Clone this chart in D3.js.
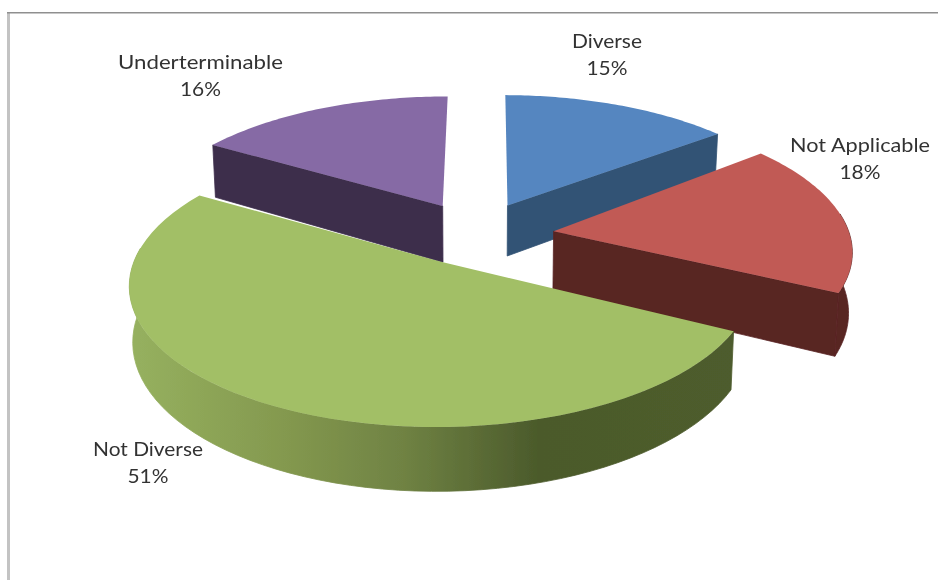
<!DOCTYPE html>
<html><head><meta charset="utf-8">
<script src="https://cdn.jsdelivr.net/npm/d3@7"></script>
<style>html,body{margin:0;padding:0;background:#fff}svg{display:block}</style>
</head><body><svg id="c" width="938" height="580"></svg>
<script>
const categories = ["Diverse","Not Applicable","Not Diverse","Underterminable"];
const values = [15,18,51,16];
const topColors = ["#5586c0","#c15a55","#a2bf66","#866aa5"];
const wallColors = ["#325375","#592523","#4b5a2b","#3e2e4c"];

const W=938,H=580;
const cx=477,cy=232,R=304,S=134,K=0.15,EXPLODE=0.22,BOTTOM_SCALE=0.99;
// per-slice view adjustments for the perspective of the original
const depths=[52,59,53,58];
const radii=[1,1.01,0.985,1];
const startTweak=[0.01,-0.01,-0.025,-0.01];
const endTweak=[-0.035,-0.03,-0.025,0];
const nudges=[[0,-1],[-3,-3],[0,4],[-2,0]];
const apexNudges=[[1,0],[13,4],[0,0],[-1,-1]];

const svg=d3.select("#c");
const defs=svg.append("defs");
const grad=defs.append("linearGradient").attr("id","greenWall").attr("gradientUnits","userSpaceOnUse")
  .attr("x1",130).attr("x2",740).attr("y1",0).attr("y2",0);
[[0,"#96b15f"],[0.25,"#84994f"],[0.45,"#6f8243"],[0.67,"#4b5a2b"],[1,"#4e5c2d"]].forEach(s=>
  grad.append("stop").attr("offset",s[0]).attr("stop-color",s[1]));
defs.append("filter").attr("id","soft").attr("x","-5%").attr("y","-5%").attr("width","110%").attr("height","110%")
  .append("feGaussianBlur").attr("stdDeviation",0.6);

svg.append("rect").attr("width",W).attr("height",H).attr("fill","#fff");
svg.append("rect").attr("x",7).attr("y",12).attr("width",3).attr("height",H-12).attr("fill","#c3c3c3");
svg.append("rect").attr("x",7).attr("y",12).attr("width",W-7).attr("height",1.5).attr("fill","#8f8f8f");

const pie=d3.pie().sort(null).value(d=>d)(values);
pie.forEach((p,i)=>{
  const mid=(p.startAngle+p.endAngle)/2;
  p.i=i; p.ox=EXPLODE*Math.sin(mid); p.oy=-EXPLODE*Math.cos(mid);
  p.a0=p.startAngle+startTweak[i]; p.a1=p.endAngle+endTweak[i];
});
function project(p,u,v,low,n){
  const w=1-K*v, s=low?BOTTOM_SCALE:1;
  return [cx+R*u*s/w+n[0], cy+(S*v+(low?depths[p.i]:0))/w+n[1]];
}
const line=d3.line();
const rimPt=(p,a,low)=>project(p,p.ox+radii[p.i]*Math.sin(a),p.oy-radii[p.i]*Math.cos(a),low,nudges[p.i]);
const apexPt=(p,low)=>{const n=nudges[p.i],m=apexNudges[p.i];return project(p,p.ox,p.oy,low,[n[0]+m[0],n[1]+m[1]]);};
const angles=(a,b)=>d3.range(0,61).map(i=>a+(b-a)*i/60);

const g=svg.append("g").attr("filter","url(#soft)");
function wallRadial(p,a,fill){
  g.append("path").attr("d",line([apexPt(p,false),rimPt(p,a,false),rimPt(p,a,true),apexPt(p,true)])+"Z")
   .attr("fill",fill).attr("stroke",fill).attr("stroke-width",0.8);
}
function wallOuter(p,a,b,fill){
  const as=angles(a,b);
  const up=as.map(t=>rimPt(p,t,false));
  const dn=as.slice().reverse().map(t=>rimPt(p,t,true));
  g.append("path").attr("d",line(up.concat(dn))+"Z").attr("fill",fill).attr("stroke",fill).attr("stroke-width",0.8);
}
function topFace(p,fill){
  const pts=[apexPt(p,false)].concat(angles(p.a0,p.a1).map(t=>rimPt(p,t,false)));
  g.append("path").attr("d",line(pts)+"Z").attr("fill",fill);
}
const [blue,red,green,purple]=pie;
wallRadial(purple,purple.a0,wallColors[3]); topFace(purple,topColors[3]);
wallRadial(blue,blue.a1,wallColors[0]); topFace(blue,topColors[0]);
wallRadial(red,red.a1,wallColors[1]);
wallOuter(red,Math.PI/2-0.1,red.a1,wallColors[1]); topFace(red,topColors[1]);
wallOuter(green,green.a0,Math.PI*1.5+0.1,"url(#greenWall)"); topFace(green,topColors[2]);

const labelPos=[[607,48],[860,152],[148,456],[200.5,69]];
const labelWidths=[70,140,110,165];
const lab=svg.append("g").attr("filter","url(#soft)").attr("font-family","Lato, sans-serif").attr("font-size",19).attr("fill","#333").attr("text-anchor","middle");
categories.forEach((c,i)=>{
  lab.append("text").attr("x",labelPos[i][0]).attr("y",labelPos[i][1]).attr("textLength",labelWidths[i]).attr("lengthAdjust","spacingAndGlyphs").text(c);
  lab.append("text").attr("x",labelPos[i][0]).attr("y",labelPos[i][1]+27).attr("textLength",41).attr("lengthAdjust","spacingAndGlyphs").text(values[i]+"%");
});
</script></body></html>
